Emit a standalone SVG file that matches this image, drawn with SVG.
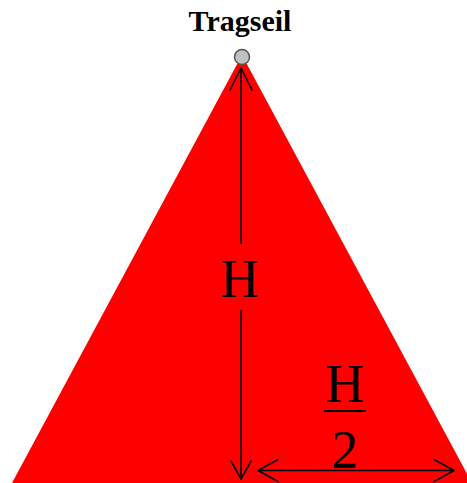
<svg xmlns="http://www.w3.org/2000/svg" width="467" height="483" viewBox="0 0 467 483">
<style>
.lbl{font-family:"Liberation Serif","Times New Roman",serif;fill:#000;text-anchor:middle}
.dim{stroke:#000;stroke-width:1.6;fill:none}
.head{stroke:#000;stroke-width:1.6;fill:none;stroke-linecap:round;stroke-linejoin:round}
</style>
<rect width="467" height="483" fill="#fff"/>
<g id="triangle">
<polygon points="242,55 12,483 472,483" fill="#ff0000"/>
</g>
<g id="tragseil">
<circle cx="242" cy="57" r="7.5" fill="#c0c0c0" stroke="#555" stroke-width="1.5"/>
<text class="lbl" x="240" y="31" font-size="30" font-weight="bold">Tragseil</text>
</g>
<g id="connectors">
<line class="dim" x1="241" y1="68" x2="241" y2="244"/>
<line class="dim" x1="241" y1="310" x2="241" y2="479"/>
<polyline class="head" points="230,90 241,68 252,90"/>
<polyline class="head" points="231,461 241,479 251,461"/>
<line class="dim" x1="258" y1="470.5" x2="454" y2="470.5"/>
<polyline class="head" points="278,459.5 258,470.5 278,481.5"/>
<polyline class="head" points="434,459.5 454,470.5 434,481.5"/>
</g>
<g id="labelH">
<text class="lbl" x="240" y="297" font-size="54">H</text>
</g>
<g id="labelH2">
<text class="lbl" x="345" y="402" font-size="54">H</text>
<line x1="324" y1="411" x2="366" y2="411" stroke="#000" stroke-width="2"/>
<text class="lbl" x="345" y="468" font-size="54">2</text>
</g>
</svg>
